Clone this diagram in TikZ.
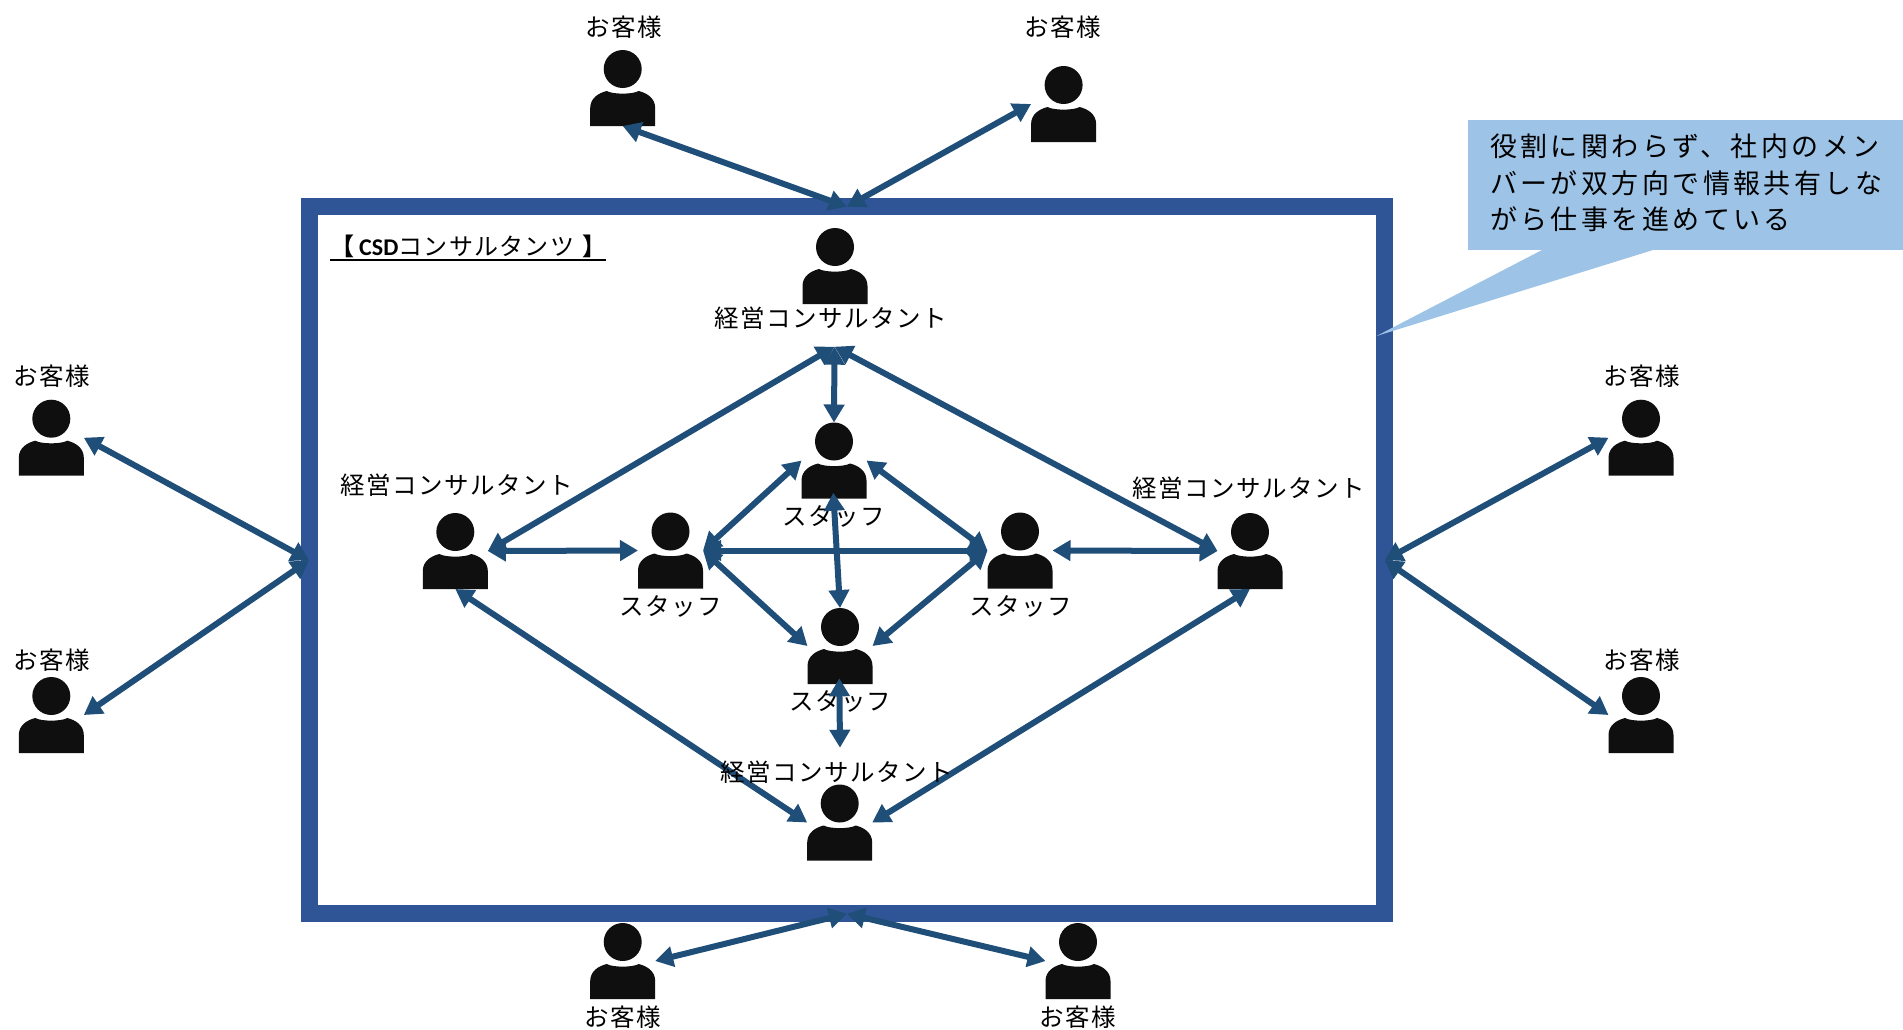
\documentclass[tikz,border=0pt]{standalone}
\usepackage{fontspec}
\usetikzlibrary{arrows.meta}
\setmainfont{Noto Sans CJK JP}
\newfontfamily\jplabel[LetterSpace=6]{Noto Sans CJK JP}
\newfontfamily\jpcall[LetterSpace=12.6]{Noto Sans CJK JP}
\newfontfamily\jptitle[LetterSpace=5.5]{Noto Sans CJK JP}
\newfontfamily\jpplain{Noto Sans CJK JP}
\newfontfamily\latinbold[BoldFont={Carlito Bold}]{Carlito}
\definecolor{framecol}{HTML}{2F5597}
\definecolor{arrowcol}{HTML}{1F4E79}
\definecolor{callcol}{HTML}{9DC3E6}
\definecolor{iconcol}{HTML}{0F0F0F}
\tikzset{
  person/.style={minimum width=65pt,minimum height=76pt,inner sep=0pt,outer sep=0pt,
    path picture={
      \begin{scope}[shift={(path picture bounding box.center)}]
      \fill[iconcol] (0,-19) circle [radius=19];
      \fill[iconcol] (-32.5,38) -- (-32.5,20) .. controls (-32.5,10) and (-24,5) .. (-16,3)
        .. controls (-10,6.5) and (10,6.5) .. (16,3)
        .. controls (24,5) and (32.5,10) .. (32.5,20) -- (32.5,38) -- cycle;
      \end{scope}
    }},
  lab/.style={inner sep=0pt,text=black,font=\fontsize{24.5}{28}\selectfont\jplabel},
  conn/.style={line width=6pt,draw=arrowcol,
    {Triangle[length=18pt,width=20pt]}-{Triangle[length=18pt,width=20pt]}},
}
\begin{document}
\begin{tikzpicture}[x=1pt,y=-1pt]
\useasboundingbox (0,0) rectangle (1903,1029);
\fill[white] (0,0) rectangle (1903,1029);
% frame
\node[draw=framecol,line width=17pt,minimum width=1075.7pt,minimum height=707pt,inner sep=0pt,outer sep=0pt] (frame) at (846.9,560.2) {};
% callout
\fill[callcol] (1542,250) -- (1376.5,336) -- (1653,250) -- cycle;
\node[fill=callcol,minimum width=435pt,minimum height=130pt,inner xsep=22pt,inner ysep=0pt,outer sep=0pt,text width=391pt,align=left,
  font=\fontsize{27}{36.5}\selectfont\jpcall] (call) at (1685.5,185) {};
\node[anchor=west,inner sep=0pt,text width=391pt,align=left,
  font=\fontsize{27}{36.5}\selectfont\jpcall] (calltext) at (1490,183)
  {役割に関わらず、社内のメン\\バーが双方向で情報共有しな\\がら仕事を進めている};
% title
\node[anchor=west,inner sep=0pt,font=\fontsize{24}{28}\selectfont] (title) at (330,246.7)
  {{\jpplain\bfseries 【}\hspace{5pt}\latinbold\bfseries CSD\mdseries\jptitle コンサルタンツ\hspace{8pt}{\jpplain\bfseries 】}};
\coordinate (ula) at (330,260);
\coordinate (ulb) at (606,260);
\draw[line width=1.2pt,black] (ula) -- (ulb);
% people
\node[person] (ct1) at (622.7,88) {};
\node[person] (ct2) at (1063.6,104) {};
\node[person] (tc) at (835,266) {};
\node[person] (lc) at (455.3,551) {};
\node[person] (rc) at (1250,551) {};
\node[person] (bc) at (839.7,822.5) {};
\node[person] (st) at (834,460.5) {};
\node[person] (sl) at (670.5,550.5) {};
\node[person] (sr) at (1020,550.5) {};
\node[person] (sb) at (840,646) {};
\node[person] (cl1) at (51.3,437.7) {};
\node[person] (cl2) at (51.3,715) {};
\node[person] (cr1) at (1641,437.7) {};
\node[person] (cr2) at (1641,715) {};
\node[person] (cb1) at (622.7,961) {};
\node[person] (cb2) at (1078,961) {};
% labels
\node[lab] (lct1) at (623.5,26.7) {お客様};
\node[lab] (lct2) at (1063,26.7) {お客様};
\node[lab] (lcl1) at (52,376) {お客様};
\node[lab] (lcl2) at (52,660) {お客様};
\node[lab] (lcr1) at (1641.7,376) {お客様};
\node[lab] (lcr2) at (1641.7,660) {お客様};
\node[lab] (lcb1) at (623,1016.7) {お客様};
\node[lab] (lcb2) at (1078,1016.7) {お客様};
\node[lab] (ltc) at (831,318.5) {経営コンサルタント};
\node[lab] (llc) at (456.5,485) {経営コンサルタント};
\node[lab] (lrc) at (1248.5,488) {経営コンサルタント};
\node[lab] (lst) at (834,516.7) {スタッフ};
\node[lab] (lsl) at (671,606.7) {スタッフ};
\node[lab] (lsr) at (1021,606) {スタッフ};
\node[lab] (lsb) at (840.3,701.7) {スタッフ};
% free connector ends
\coordinate (tcb) at (834.5,346.7);
\coordinate (bcn) at (840,747.7);
\coordinate (stb) at (833.3,492.7);
\coordinate (sbb) at (839.3,678.3);
% connectors
\draw[conn] (ct1.south) -- (frame.north);
\draw[conn] (ct2.west) -- (frame.north);
\draw[conn] (cl1.east) -- (frame.west);
\draw[conn] (cl2.east) -- (frame.west);
\draw[conn] (cr1.west) -- (frame.east);
\draw[conn] (cr2.west) -- (frame.east);
\draw[conn] (cb1.east) -- (frame.south);
\draw[conn] (cb2.west) -- (frame.south);
\draw[conn] (tcb) -- (lc.east);
\draw[conn] (tcb) -- (rc.west);
\draw[conn] (tcb) -- (st.north);
\draw[conn] (lc.east) -- (sl.west);
\draw[conn] (rc.west) -- (sr.east);
\draw[conn] (sl.east) -- (st.west);
\draw[conn] (sl.east) -- (sr.west);
\draw[conn] (sl.east) -- (sb.west);
\draw[conn] (st.east) -- (sr.west);
\draw[conn] (sr.west) -- (sb.east);
\draw[conn] (stb) -- (sb.north);
\draw[conn] (sbb) -- (bcn);
\draw[conn] (lc.south) -- (bc.west);
\draw[conn] (rc.south) -- (bc.east);
% label drawn above its connectors
\node[lab] (lbc) at (836.5,772) {経営コンサルタント};
\end{tikzpicture}
\end{document}
